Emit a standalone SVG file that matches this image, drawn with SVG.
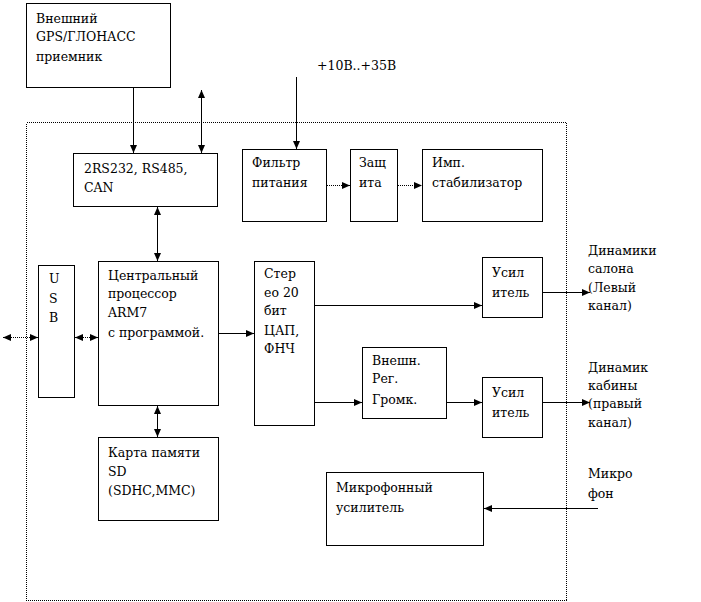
<svg xmlns="http://www.w3.org/2000/svg" width="701" height="602" viewBox="0 0 701 602">
<style>
.b{fill:#fff;stroke:#000;stroke-width:1}
text{font-family:"DejaVu Serif","Liberation Serif",serif;font-size:12.5px;fill:#000}
.c{stroke:#000;stroke-width:1;fill:none}
.d{stroke:#000;stroke-width:1;fill:none;stroke-dasharray:1 1;shape-rendering:crispEdges}
</style>
<defs>
<marker id="ah" markerUnits="userSpaceOnUse" markerWidth="9" markerHeight="8" refX="8" refY="4" orient="auto-start-reverse">
<path d="M0,0.5 L8,4 L0,7.5 Z" fill="#000"/>
</marker>
</defs>
<rect x="26.5" y="122.5" width="540" height="478" class="d"/>
<g id="gps"><rect class="b" x="26.5" y="3.5" width="144" height="84"/>
<text x="36" y="23">Внешний</text><text x="36" y="41">GPS/ГЛОНАСС</text><text x="36" y="61">приемник</text></g>
<g id="rs"><rect class="b" x="73.5" y="153.5" width="144" height="53"/>
<text x="84" y="173">2RS232, RS485,</text><text x="84" y="192">CAN</text></g>
<g id="filter"><rect class="b" x="242.5" y="149.5" width="84" height="72"/>
<text x="252" y="167">Фильтр</text><text x="252" y="187">питания</text></g>
<g id="prot"><rect class="b" x="350.5" y="149.5" width="47" height="72"/>
<text x="359" y="167">Защ</text><text x="359" y="187">ита</text></g>
<g id="stab"><rect class="b" x="422.5" y="149.5" width="120" height="72"/>
<text x="432" y="167">Имп.</text><text x="432" y="187">стабилизатор</text></g>
<text x="317" y="70">+10В..+35В</text>
<g id="usb"><rect class="b" x="38.5" y="265.5" width="36" height="132"/>
<text x="49" y="283">U</text><text x="49" y="303">S</text><text x="49" y="322">B</text></g>
<g id="cpu"><rect class="b" x="98.5" y="261.5" width="120" height="144"/>
<text x="108" y="280">Центральный</text><text x="108" y="298">процессор</text><text x="108" y="317">ARM7</text><text x="108" y="337">с программой.</text></g>
<g id="dac"><rect class="b" x="254.5" y="261.5" width="60" height="164"/>
<text x="264" y="278">Стер</text><text x="264" y="297">ео 20</text><text x="264" y="315">бит</text><text x="264" y="335">ЦАП,</text><text x="264" y="353">ФНЧ</text></g>
<g id="sd"><rect class="b" x="98.5" y="437.5" width="120" height="83"/>
<text x="108" y="457">Карта памяти</text><text x="108" y="476">SD</text><text x="108" y="495">(SDHC,MMC)</text></g>
<g id="amp1"><rect class="b" x="482.5" y="257.5" width="60" height="60"/>
<text x="492" y="277">Усил</text><text x="492" y="297">итель</text></g>
<g id="vol"><rect class="b" x="362.5" y="347.5" width="84" height="71"/>
<text x="372" y="365">Внешн.</text><text x="372" y="383">Рег.</text><text x="372" y="404">Громк.</text></g>
<g id="amp2"><rect class="b" x="482.5" y="377.5" width="60" height="60"/>
<text x="492" y="397">Усил</text><text x="492" y="417">итель</text></g>
<g id="mic"><rect class="b" x="326.5" y="472.5" width="157" height="73"/>
<text x="336" y="492">Микрофонный</text><text x="336" y="512">усилитель</text></g>
<g id="labels">
<text x="588" y="255">Динамики</text><text x="588" y="273">салона</text><text x="588" y="292">(Левый</text><text x="588" y="310">канал)</text>
<text x="588" y="372">Динамик</text><text x="588" y="390">кабины</text><text x="588" y="408">(правый</text><text x="588" y="427">канал)</text>
<text x="588" y="478">Микро</text><text x="588" y="498">фон</text>
</g>
<g id="connectors">
<line class="c" x1="133.5" y1="88" x2="133.5" y2="153" marker-end="url(#ah)"/>
<line class="c" x1="201.5" y1="90" x2="201.5" y2="153" marker-start="url(#ah)" marker-end="url(#ah)"/>
<line class="c" x1="157.5" y1="207" x2="157.5" y2="261" marker-start="url(#ah)" marker-end="url(#ah)"/>
<line class="c" x1="296.5" y1="77" x2="296.5" y2="149" marker-end="url(#ah)"/>
<line class="d" x1="327" y1="185.5" x2="350" y2="185.5" marker-end="url(#ah)"/>
<line class="d" x1="398" y1="185.5" x2="422" y2="185.5" marker-end="url(#ah)"/>
<line class="d" x1="3" y1="337.5" x2="38" y2="337.5" marker-start="url(#ah)" marker-end="url(#ah)"/>
<line class="d" x1="75" y1="337.5" x2="98" y2="337.5" marker-start="url(#ah)" marker-end="url(#ah)"/>
<line class="c" x1="219" y1="333.5" x2="254" y2="333.5" marker-end="url(#ah)"/>
<line class="c" x1="157.5" y1="406" x2="157.5" y2="437" marker-start="url(#ah)" marker-end="url(#ah)"/>
<line class="c" x1="315" y1="305.5" x2="482" y2="305.5" marker-end="url(#ah)"/>
<line class="c" x1="315" y1="402.5" x2="362" y2="402.5" marker-end="url(#ah)"/>
<line class="c" x1="447" y1="402.5" x2="482" y2="402.5" marker-end="url(#ah)"/>
<line class="c" x1="543" y1="292.5" x2="590" y2="292.5" marker-end="url(#ah)"/>
<line class="c" x1="543" y1="402.5" x2="590" y2="402.5" marker-end="url(#ah)"/>
<line class="c" x1="598" y1="508.5" x2="484" y2="508.5" marker-end="url(#ah)"/>
</g>
</svg>
